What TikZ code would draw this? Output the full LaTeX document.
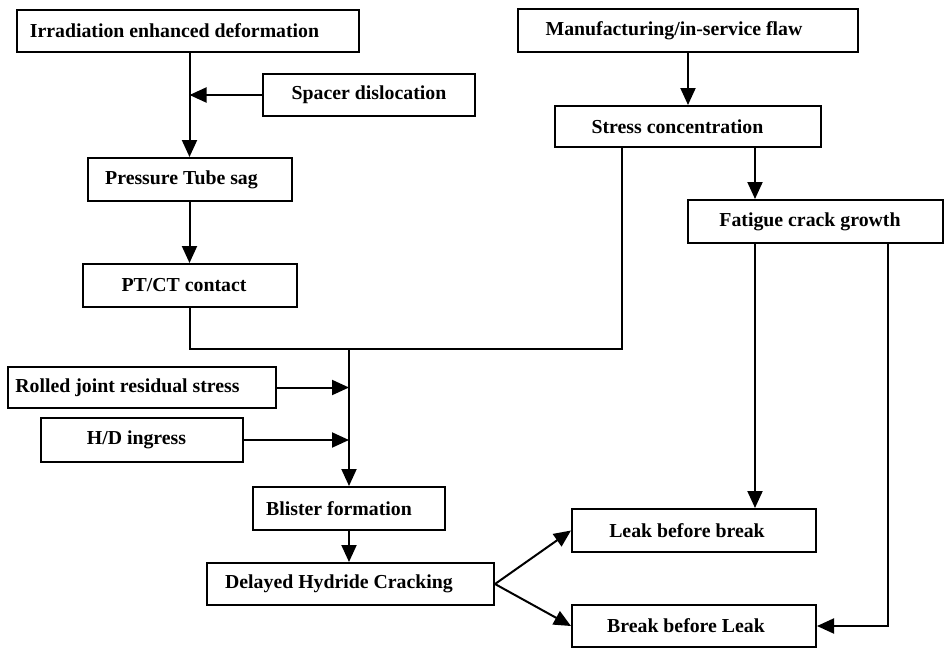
\documentclass[tikz,border=0pt]{standalone}
\usepackage{fontspec}
\setmainfont{Liberation Serif}
\usetikzlibrary{arrows.meta}

\begin{document}
\begin{tikzpicture}[x=1pt,y=-1pt,
  box/.style={draw,line width=2pt,rectangle,inner sep=0pt,
              font=\bfseries\fontsize{19.8}{22}\selectfont},
  tx/.style={execute at begin node=\hspace*{#1}},
  arr/.style={-{Triangle[length=17pt,width=15pt]},line width=2pt},
  link/.style={line width=2pt}]
\useasboundingbox (0,0) rectangle (945,648);
% left branch
\node[box,tx=-27pt,minimum width=342pt,minimum height=42pt] (irr) at (188,31) {Irradiation enhanced deformation};
\node[box,minimum width=212pt,minimum height=42pt] (spacer) at (369,95) {Spacer dislocation};
\node[box,tx=-16pt,minimum width=204pt,minimum height=43pt] (sag) at (189.5,179.5) {Pressure Tube sag};
\node[box,tx=-11pt,minimum width=214pt,minimum height=43pt] (contact) at (189.5,285.5) {PT/CT contact};
% right branch
\node[box,tx=-28pt,minimum width=340pt,minimum height=43pt] (flaw) at (688,30.5) {Manufacturing/in-service flaw};
\node[box,tx=-21pt,minimum width=266pt,minimum height=41pt] (stress) at (688,126.5) {Stress concentration};
\node[box,tx=-11pt,minimum width=255pt,minimum height=43pt] (fatigue) at (815.5,221.5) {Fatigue crack growth};
% lower part
\node[box,tx=-29pt,minimum width=268pt,minimum height=41pt] (rolled) at (142,387.5) {Rolled joint residual stress};
\node[box,tx=-11pt,minimum width=202pt,minimum height=44pt] (ingress) at (142,440) {H/D ingress};
\node[box,tx=-20pt,minimum width=192pt,minimum height=43pt] (blister) at (349,508.5) {Blister formation};
\node[box,tx=-23pt,minimum width=287pt,minimum height=42pt] (dhc) at (350.5,584) {Delayed Hydride Cracking};
\node[box,tx=-14pt,minimum width=244pt,minimum height=43pt] (lbb) at (694,530.5) {Leak before break};
\node[box,tx=-16pt,minimum width=244pt,minimum height=42pt] (bbl) at (694,626) {Break before Leak};
% junction points
\coordinate (join) at (622,349);
\coordinate (merge) at (349,349);
\coordinate (fx) at (755,0);
\coordinate (bx) at (888,0);
\draw[arr] (irr.south -| sag.north) -- (sag.north);
\draw[arr] (spacer.west) -- (spacer.west -| sag.north);
\draw[arr] (sag.south) -- (contact.north);
\draw[link] (contact.south) |- (join) -- (join |- stress.south);
\draw[arr] (merge) -- (blister.north);
\draw[arr] (rolled.east) -- (rolled.east -| merge);
\draw[arr] (ingress.east) -- (ingress.east -| merge);
\draw[arr] (blister.south) -- (blister.south |- dhc.north);
\draw[arr] (dhc.east) -- (lbb.west);
\draw[arr] (dhc.east) -- (bbl.west);
\draw[arr] (flaw.south) -- (stress.north);
\draw[arr] (stress.south -| fx) -- (fx |- fatigue.north);
\draw[arr] (fatigue.south -| fx) -- (fx |- lbb.north);
\draw[arr] (fatigue.south -| bx) |- (bbl.east);
\end{tikzpicture}
\end{document}
